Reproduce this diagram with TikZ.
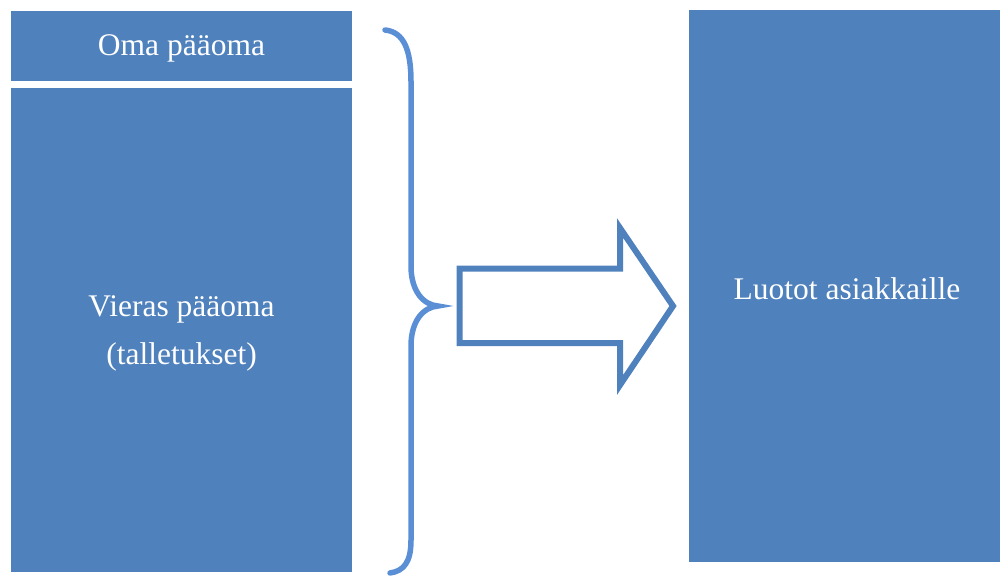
\documentclass[tikz,border=0pt]{standalone}
\usepackage{fontspec}
\setmainfont{Liberation Serif}
\definecolor{boxblue}{HTML}{4F81BD}
\definecolor{braceblue}{HTML}{5A8FD5}
\begin{document}
\begin{tikzpicture}[x=1pt,y=-1pt,
  block/.style={fill=boxblue,draw=none,inner sep=0pt,text=white,align=center,
    font=\fontsize{31.5}{48}\selectfont},
  label/.style={text=white,align=center,font=\fontsize{31.5}{48}\selectfont},
  bracestroke/.style={draw=braceblue,line width=5.5pt,line cap=round},
  arrowstroke/.style={draw=boxblue,line width=6pt,line join=miter}]
  \useasboundingbox (0,0) rectangle (1000,575);
  % left column: equity and debt
  \node[block,minimum width=341pt,minimum height=70pt] (oma) at (181.5,46) {};
  \node[label] (omaTxt) at (181.5,48.5) {Oma pääoma};
  \node[block,minimum width=341pt,minimum height=484pt] (vieras) at (181.5,330) {};
  \node[label] (vierasTxt) at (181.5,333) {Vieras pääoma\\(talletukset)};
  % right column: loans
  \node[block,minimum width=311pt,minimum height=552pt] (luotot) at (844.5,286) {};
  \node[label] (luototTxt) at (847,289) {Luotot asiakkaille};
  % curly brace
  \draw[bracestroke] (385,30) .. controls (404,32) and (411,50) .. (411,82)
    -- (411,266) .. controls (411,292) and (424,305) .. (438,306)
    .. controls (424,307) and (411,320) .. (411,346)
    -- (411,540) .. controls (411,562) and (404,571) .. (390,573);
  % block arrow
  \draw[arrowstroke] (459.5,268.5) -- (620,268.5) -- (620,228) -- (673,306)
    -- (620,385) -- (620,343) -- (459.5,343) -- cycle;
\end{tikzpicture}
\end{document}
